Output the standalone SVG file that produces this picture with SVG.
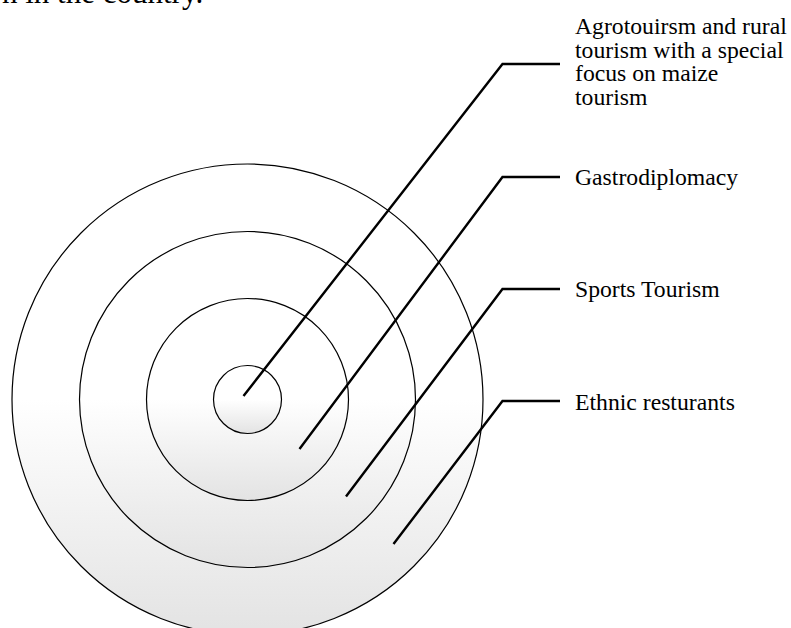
<svg xmlns="http://www.w3.org/2000/svg" width="791" height="628" viewBox="0 0 791 628">
<style>
.ring{stroke:#000;stroke-width:1.2;fill:url(#g)}
.lead{fill:none;stroke:#000;stroke-width:2.4}
.lbl{font-family:"Liberation Serif","Times New Roman",serif;font-size:23.7px;fill:#000}
.top{font-family:"Liberation Serif","Times New Roman",serif;font-size:31px;fill:#000}
</style>
<defs>
<linearGradient id="g" x1="0" y1="0" x2="0" y2="1">
<stop offset="0" stop-color="#fff"/>
<stop offset="0.5" stop-color="#fff"/>
<stop offset="1" stop-color="#e3e3e3"/>
</linearGradient>
</defs>
<rect width="791" height="628" fill="#fff"/>
<text class="top" x="2" y="3">n in the country.</text>
<g id="ring4"><circle class="ring" cx="247.5" cy="399.5" r="235.5"/></g>
<g id="ring3"><circle class="ring" cx="247.5" cy="399.5" r="168"/></g>
<g id="ring2"><circle class="ring" cx="247.5" cy="399.5" r="101"/></g>
<g id="ring1"><circle class="ring" cx="247.5" cy="399.5" r="34"/></g>
<g id="connectors">
<polyline class="lead" points="243.5,396 502.5,64 560,64"/>
<polyline class="lead" points="299.5,449 502.5,177 560,177"/>
<polyline class="lead" points="346,496.5 502.5,289 560,289"/>
<polyline class="lead" points="393.5,544 502.5,401 560,401"/>
</g>
<g id="label1">
<text class="lbl" x="575" y="34">Agrotouirsm and rural</text>
<text class="lbl" x="575" y="57.7">tourism with a special</text>
<text class="lbl" x="575" y="81.4">focus on maize</text>
<text class="lbl" x="575" y="105.1">tourism</text>
</g>
<g id="label2"><text class="lbl" x="575" y="185">Gastrodiplomacy</text></g>
<g id="label3"><text class="lbl" x="575" y="297">Sports Tourism</text></g>
<g id="label4"><text class="lbl" x="575" y="409.5">Ethnic resturants</text></g>
</svg>
